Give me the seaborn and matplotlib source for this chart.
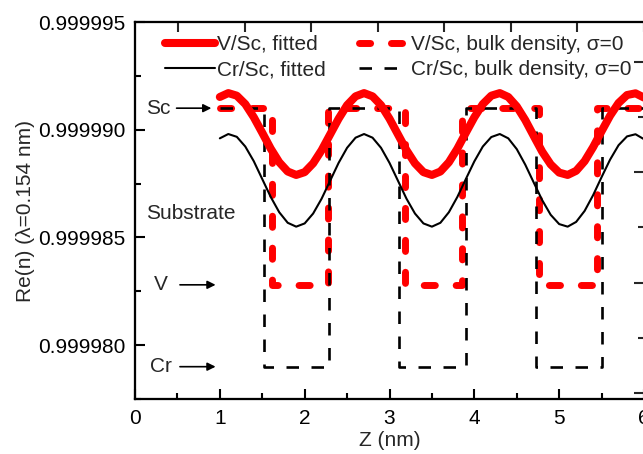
import matplotlib
matplotlib.use("Agg")
import matplotlib.pyplot as plt
from matplotlib.ticker import FormatStrFormatter, MultipleLocator, FixedLocator
import seaborn as sns
import pandas as pd

# ---------------- data ----------------
z_fit = [1.0, 1.1, 1.2, 1.3, 1.4, 1.5, 1.6, 1.7, 1.8, 1.9,
         2.0, 2.1, 2.2, 2.3, 2.4, 2.5, 2.6, 2.7, 2.8, 2.9,
         3.0, 3.1, 3.2, 3.3, 3.4, 3.5, 3.6, 3.7, 3.8, 3.9,
         4.0, 4.1, 4.2, 4.3, 4.4, 4.5, 4.6, 4.7, 4.8, 4.9,
         5.0, 5.1, 5.2, 5.3, 5.4, 5.5, 5.6, 5.7, 5.8, 5.9, 6.0]
v_fit = [0.99999152, 0.99999170, 0.99999158, 0.99999119, 0.99999058, 0.99998986, 0.99998912,
         0.99998849, 0.99998806, 0.99998790, 0.99998803, 0.99998844, 0.99998905, 0.99998978,
         0.99999051, 0.99999114, 0.99999155, 0.99999170, 0.99999155, 0.99999114, 0.99999051,
         0.99998978, 0.99998905, 0.99998844, 0.99998803, 0.99998790, 0.99998806, 0.99998849,
         0.99998912, 0.99998986, 0.99999058, 0.99999119, 0.99999158, 0.99999170, 0.99999152,
         0.99999108, 0.99999045, 0.99998971, 0.99998898, 0.99998839, 0.99998801, 0.99998790,
         0.99998809, 0.99998854, 0.99998919, 0.99998993, 0.99999065, 0.99999124, 0.99999161,
         0.99999169, 0.99999149]
cr_fit = [0.99998960, 0.99998980, 0.99998967, 0.99998922, 0.99998854, 0.99998771, 0.99998688,
          0.99998617, 0.99998568, 0.99998550, 0.99998565, 0.99998611, 0.99998680, 0.99998763,
          0.99998846, 0.99998916, 0.99998963, 0.99998980, 0.99998963, 0.99998916, 0.99998846,
          0.99998763, 0.99998680, 0.99998611, 0.99998565, 0.99998550, 0.99998568, 0.99998617,
          0.99998688, 0.99998771, 0.99998853, 0.99998922, 0.99998966, 0.99998980, 0.99998960,
          0.99998910, 0.99998838, 0.99998755, 0.99998673, 0.99998605, 0.99998562, 0.99998550,
          0.99998572, 0.99998623, 0.99998696, 0.99998780, 0.99998861, 0.99998928, 0.99998969,
          0.99998979, 0.99998956]

SC = 0.999991
V = 0.9999828
CR = 0.999979
v_bulk_z = [1.0, 1.61, 1.61, 2.27, 2.27, 3.18, 3.18, 3.86, 3.86, 4.76, 4.76, 5.45, 5.45, 6.1]
v_bulk_n = [SC, SC, V, V, SC, SC, V, V, SC, SC, V, V, SC, SC]
cr_bulk_z = [1.0, 1.52, 1.52, 2.29, 2.29, 3.11, 3.11, 3.90, 3.90, 4.73, 4.73, 5.50, 5.50, 6.1]
cr_bulk_n = [SC, SC, CR, CR, SC, SC, CR, CR, SC, SC, CR, CR, SC, SC]

labels = ["V/Sc, fitted", "Cr/Sc, fitted",
          "V/Sc, bulk density, \u03c3=0", "Cr/Sc, bulk density, \u03c3=0"]

# ---------------- style ----------------
sns.set_theme(style="ticks")
plt.rcParams["font.family"] = ["Liberation Sans", "DejaVu Sans"]
plt.rcParams["lines.scale_dashes"] = False
FS = 15

fig = plt.figure(figsize=(6.43, 4.54), dpi=100)
ax = fig.add_axes([135 / 643, 55 / 454, 509 / 643, 377 / 454])

df_v = pd.DataFrame({"z": z_fit, "n": v_fit})
df_c = pd.DataFrame({"z": z_fit, "n": cr_fit})
df_vb = pd.DataFrame({"z": v_bulk_z, "n": v_bulk_n})
df_cb = pd.DataFrame({"z": cr_bulk_z, "n": cr_bulk_n})

sns.lineplot(data=df_cb, x="z", y="n", ax=ax, sort=False, estimator=None,
             color="black", lw=1.9, linestyle=(0, (9, 9)), label=labels[3], zorder=3)
sns.lineplot(data=df_vb, x="z", y="n", ax=ax, sort=False, estimator=None,
             color="#ff0000", lw=5.0, linestyle=(0, (8, 15)), dash_capstyle="round",
             label=labels[2], zorder=2)
sns.lineplot(data=df_c, x="z", y="n", ax=ax, sort=False, estimator=None,
             color="black", lw=1.5, label=labels[1], zorder=4)
sns.lineplot(data=df_v, x="z", y="n", ax=ax, sort=False, estimator=None,
             color="#ff0000", lw=5.8, label=labels[0], zorder=5, solid_capstyle="round")

ax.set_xlim(0, 6.0)
ax.set_ylim(0.9999775, 0.999995)
ax.xaxis.set_major_locator(MultipleLocator(1))
ax.xaxis.set_minor_locator(MultipleLocator(0.5))
ax.yaxis.set_major_locator(FixedLocator([0.99998, 0.999985, 0.99999, 0.999995]))
ax.yaxis.set_minor_locator(FixedLocator([0.9999775, 0.9999825, 0.9999875, 0.9999925]))
ax.yaxis.set_major_formatter(FormatStrFormatter("%.6f"))
ax.xaxis.set_major_formatter(FormatStrFormatter("%d"))
ax.tick_params(axis="both", which="major", direction="in", length=7, width=1.5,
               labelsize=FS, pad=7, colors="black")
ax.tick_params(axis="both", which="minor", direction="in", length=4, width=1.5, colors="black")
for s in ax.spines.values():
    s.set_linewidth(1.5)
    s.set_color("black")

# top and right tick marks (separate scales on the original frame)
axt = ax.twiny()
axt.set_xlim(0, 1)
axt.set_xticks([(182 - 135) / 509 + i * 0.1418 for i in range(8)])
axt.tick_params(axis="x", direction="in", length=7, width=1.5, labeltop=False)
axr = ax.twinx()
axr.set_ylim(0, 1)
axr.yaxis.set_major_locator(FixedLocator([0.016, 0.309, 0.601, 0.894]))
axr.yaxis.set_minor_locator(FixedLocator([0.162, 0.455, 0.748]))
axr.tick_params(axis="y", which="major", direction="in", length=7, width=1.5, labelright=False)
axr.tick_params(axis="y", which="minor", direction="in", length=4, width=1.5)
for a in (axt, axr):
    for s in a.spines.values():
        s.set_linewidth(1.5)
        s.set_color("black")

ax.set_xlabel("Z (nm)", fontsize=FS, labelpad=2)
ax.set_ylabel("Re(n) (\u03bb=0.154 nm)", fontsize=FS, labelpad=2)

# annotations
arrow = dict(arrowstyle="-|>", color="black", lw=1.2, mutation_scale=12, shrinkA=0, shrinkB=0)
ax.text(0.27, SC, "Sc", fontsize=FS, ha="center", va="center")
ax.annotate("", xy=(0.90, SC), xytext=(0.49, SC), arrowprops=arrow)
ax.text(0.66, 0.99998611, "Substrate", fontsize=FS, ha="center", va="center")
ax.text(0.30, V, "V", fontsize=FS, ha="center", va="center")
ax.annotate("", xy=(0.95, V), xytext=(0.53, V), arrowprops=arrow)
ax.text(0.31, CR, "Cr", fontsize=FS, ha="center", va="center")
ax.annotate("", xy=(0.95, CR), xytext=(0.53, CR), arrowprops=arrow)

# legend
handles, labs = ax.get_legend_handles_labels()
order = [labs.index(l) for l in labels]
ax.legend([handles[i] for i in order], [labs[i] for i in order], ncol=2, frameon=False,
          fontsize=FS, loc="upper left", bbox_to_anchor=(0.059, 0.966), borderpad=0,
          borderaxespad=0, handlelength=2.4, handletextpad=0.1, columnspacing=1.6,
          labelspacing=0.3)

fig.savefig("out.png", dpi=100)
